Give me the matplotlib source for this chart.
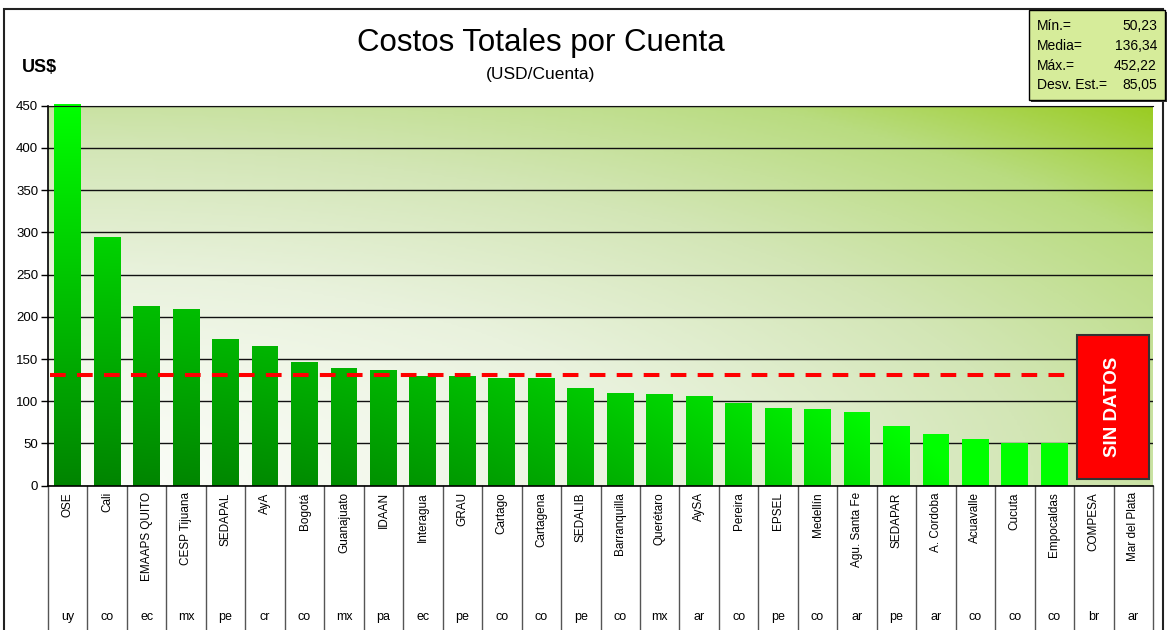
import numpy as np
import matplotlib
matplotlib.use("Agg")
import matplotlib.pyplot as plt
from matplotlib.colors import LinearSegmentedColormap
from matplotlib.patches import Rectangle
from matplotlib.path import Path
from matplotlib.transforms import blended_transform_factory

plt.rcParams['font.family'] = ['Liberation Sans', 'DejaVu Sans']

# ---------------- data ----------------
entities = ["OSE", "Cali", "EMAAPS QUITO", "CESP Tijuana", "SEDAPAL", "AyA", "Bogotá",
            "Guanajuato", "IDAAN", "Interagua", "GRAU", "Cartago", "Cartagena", "SEDALIB",
            "Barranquilla", "Querétaro", "AySA", "Pereira", "EPSEL", "Medellín",
            "Agu. Santa Fe", "SEDAPAR", "A. Cordoba", "Acuavalle", "Cucuta", "Empocaldas",
            "COMPESA", "Mar del Plata"]
countries = ["uy", "co", "ec", "mx", "pe", "cr", "co", "mx", "pa", "ec", "pe", "co", "co",
             "pe", "co", "mx", "ar", "co", "pe", "co", "ar", "pe", "ar", "co", "co", "co",
             "br", "ar"]
values = [452.22, 294.3, 212.7, 209.1, 173.6, 165.3, 146.4, 139.3, 136.6, 129.8, 129.8,
          127.5, 127.5, 115.6, 109.7, 108.5, 106.2, 97.9, 92.0, 90.8, 87.2, 70.7, 61.2,
          55.3, 50.5, 50.23, np.nan, np.nan]
reference_line = 131.0
stat_labels = ["Mín.=", "Media=", "Máx.=", "Desv. Est.="]
stat_values = ["50,23", "136,34", "452,22", "85,05"]
yticks = [0, 50, 100, 150, 200, 250, 300, 350, 400, 450]

# ---------------- figure ----------------
W, H = 1168, 630
fig = plt.figure(figsize=(W / 100, H / 100), dpi=100)
fig.patch.set_facecolor('white')

# outer frame
fig.patches.append(Rectangle((4 / W, -0.05), 1159 / W, 1.05 - 9 / H, transform=fig.transFigure,
                             fill=False, edgecolor='#222222', lw=1.5, zorder=0))

ax = fig.add_axes([48 / W, 1 - 485.7 / H, 1105 / W, 380 / H])
n = len(entities)
x = np.arange(n)

# background diagonal gradient
gx, gy = np.meshgrid(np.linspace(0, 1, 400), np.linspace(0, 1, 200))
r = np.sqrt(gx ** 2 + gy ** 2) / np.sqrt(2)
bg_cmap = LinearSegmentedColormap.from_list(
    'bg', [(0, '#fbfdf8'), (0.3, '#e9f2dd'), (0.55, '#d3e6b6'), (0.8, '#b9dc80'), (1.0, '#9acc22')])
ax.imshow(r ** 1.3, cmap=bg_cmap, vmin=0, vmax=1, extent=(-0.5, n - 0.5, 0, 450),
          origin='lower', aspect='auto', zorder=0, interpolation='bilinear')

# bars (gradient fill clipped to bars)
bars = ax.bar(x, values, width=0.68, facecolor='none', edgecolor='none', zorder=2)
bx, by = np.meshgrid(np.linspace(-0.5, n - 0.5, 600), np.linspace(0, 460, 400))
t = np.clip(by / 452 + (np.clip(bx, 0, None) / 23.0) ** 2, 0, 1)
bar_cmap = LinearSegmentedColormap.from_list('bar', ['#008400', '#00c000', '#00ff00'])
im = ax.imshow(t, cmap=bar_cmap, vmin=0, vmax=1, extent=(-0.5, n - 0.5, 0, 460),
               origin='lower', aspect='auto', zorder=2, interpolation='bilinear')
valid = [p for p, v in zip(bars, values) if not np.isnan(v)]
compound = Path.make_compound_path(*[p.get_path().transformed(p.get_patch_transform()) for p in valid])
im.set_clip_path(compound, ax.transData)
im.set_clip_box(fig.bbox)

ax.set_xlim(-0.5, n - 0.5)
ax.set_ylim(0, 450)

# grid
ax.set_yticks(yticks)
ax.yaxis.grid(True, color='#111111', lw=1.0)
ax.set_axisbelow(True)

# reference dashed line
last_valid = max(i for i, v in enumerate(values) if not np.isnan(v))
ax.plot([-0.45, last_valid + 0.45], [reference_line, reference_line], color='#ff0000', lw=2.9,
        dashes=(3.9, 2.8), zorder=3, solid_capstyle='butt')

# SIN DATOS box
ax.add_patch(Rectangle((0.931, 0.0176), 0.0652, 0.379, transform=ax.transAxes,
                       facecolor='#ff0000', edgecolor='#333333', lw=1.5, zorder=4))
ax.text(0.931 + 0.0326, 0.0176 + 0.19, "SIN DATOS", transform=ax.transAxes, rotation=90,
        color='white', fontweight='bold', fontsize=13.5, ha='center', va='center', zorder=5)

# spines & ticks
ax.spines['right'].set_visible(False)
ax.spines['top'].set_color('#111111')
ax.spines['left'].set_color('black')
ax.spines['bottom'].set_color('black')
ax.spines['left'].set_linewidth(1.2)
ax.spines['bottom'].set_linewidth(1.2)
ax.tick_params(axis='y', length=5, width=1, pad=2, labelsize=9.5, colors='black')
ax.set_yticklabels([str(v) for v in yticks])
ax.set_xticks([])

# category table below the axis
trans = blended_transform_factory(ax.transData, ax.transAxes)
for k in range(n + 1):
    ax.plot([k - 0.5, k - 0.5], [0, -0.45], color='#555555', lw=1, transform=trans,
            clip_on=False, zorder=1)
for i in range(n):
    ax.text(i, -0.017, entities[i], rotation=90, ha='center', va='top', fontsize=8.5,
            transform=trans, clip_on=False)
    ax.text(i, -0.3455, countries[i], ha='center', va='center', fontsize=9,
            transform=trans, clip_on=False)

# titles
fig.text(541 / W, 1 - 43 / H, "Costos Totales por Cuenta", ha='center', va='center', fontsize=22.5)
fig.text(541 / W, 1 - 75 / H, "(USD/Cuenta)", ha='center', va='center', fontsize=12.5)
fig.text(22 / W, 1 - 68 / H, "US$", ha='left', va='center', fontsize=13, fontweight='bold')

# stats box
fig.patches.append(Rectangle((1031 / W, 1 - 102 / H), 136 / W, 90 / H, transform=fig.transFigure,
                             facecolor='#333333', edgecolor='none', zorder=1))
fig.patches.append(Rectangle((1029 / W, 1 - 100 / H), 136 / W, 90 / H, transform=fig.transFigure,
                             facecolor='#d6ec9a', edgecolor='black', lw=1, zorder=2))
rows_y = [26, 46, 66, 85]
for lab, val, yy in zip(stat_labels, stat_values, rows_y):
    fig.text(1037 / W, 1 - yy / H, lab, ha='left', va='center', fontsize=10, zorder=3)
    fig.text(1157 / W, 1 - yy / H, val, ha='right', va='center', fontsize=10, zorder=3)

fig.savefig("out.png", dpi=100)
